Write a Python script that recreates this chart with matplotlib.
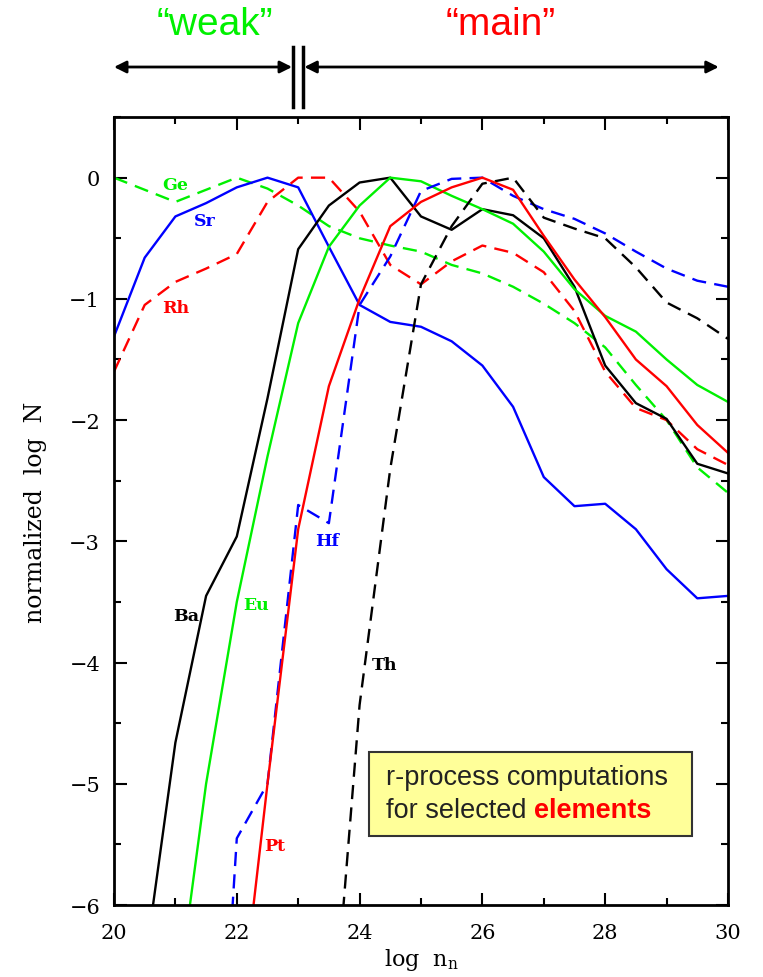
import matplotlib
matplotlib.use('Agg')
import matplotlib.pyplot as plt
import matplotlib.transforms as mtransforms
from matplotlib.patches import Rectangle
from matplotlib.ticker import MultipleLocator
import numpy as np

nan = np.nan

# log n_n grid (x axis)
lognn = [20.0, 20.5, 21.0, 21.5, 22.0, 22.5, 23.0, 23.5, 24.0, 24.5, 25.0,
         25.5, 26.0, 26.5, 27.0, 27.5, 28.0, 28.5, 29.0, 29.5, 30.0]

# normalized log N
sr = [-1.31, -0.66, -0.32, -0.21, -0.08, 0.0, -0.08, -0.57, -1.05, -1.19, -1.23,
      -1.35, -1.55, -1.89, -2.47, -2.71, -2.69, -2.90, -3.23, -3.47, -3.45]
ge = [0.0, -0.10, -0.20, -0.10, 0.0, -0.09, -0.23, -0.40, -0.50, -0.56, -0.61,
      -0.72, -0.79, -0.90, -1.04, -1.20, -1.40, -1.71, -2.00, -2.39, -2.60]
rh = [-1.60, -1.05, -0.86, -0.75, -0.63, -0.20, 0.0, 0.0, -0.28, -0.72, -0.88,
      -0.69, -0.56, -0.62, -0.78, -1.10, -1.60, -1.90, -2.00, -2.24, -2.37]
ba = [nan, -6.5, -4.66, -3.45, -2.96, -1.82, -0.59, -0.23, -0.04, 0.0, -0.32,
      -0.43, -0.26, -0.31, -0.50, -0.90, -1.55, -1.86, -1.99, -2.36, -2.44]
eu = [nan, nan, -6.9, -5.0, -3.5, -2.3, -1.2, -0.57, -0.23, 0.0, -0.03,
      -0.15, -0.26, -0.38, -0.61, -0.92, -1.14, -1.27, -1.50, -1.71, -1.85]
pt = [nan, nan, nan, nan, -7.2, -5.0, -2.9, -1.72, -1.0, -0.4, -0.2,
      -0.08, 0.0, -0.10, -0.48, -0.84, -1.15, -1.50, -1.72, -2.04, -2.27]
hf = [nan, nan, nan, -9.5, -5.45, -5.0, -2.7, -2.85, -1.05, -0.65, -0.11,
      -0.01, 0.0, -0.15, -0.26, -0.34, -0.46, -0.61, -0.75, -0.85, -0.90]
th = [nan, nan, nan, nan, nan, nan, nan, -7.5, -4.35, -2.4, -0.88,
      -0.40, -0.05, 0.0, -0.33, -0.42, -0.50, -0.74, -1.03, -1.16, -1.33]

green = '#00f000'
# (name, values, colour, dashed, label x, label y)
series = [
    ('Ge', ge, green, True, 21.0, -0.06),
    ('Sr', sr, '#0000ff', False, 21.48, -0.35),
    ('Rh', rh, '#ff0000', True, 21.0, -1.07),
    ('Ba', ba, 'black', False, 21.17, -3.61),
    ('Eu', eu, green, False, 22.32, -3.52),
    ('Hf', hf, '#0000ff', True, 23.47, -2.99),
    ('Th', th, 'black', True, 24.41, -4.02),
    ('Pt', pt, '#ff0000', False, 22.62, -5.51),
]

serif = 'DejaVu Serif'

fig = plt.figure(figsize=(7.63, 9.78), dpi=100)
ax = fig.add_axes([0.1494, 0.0736, 0.8047, 0.8057])

for name, vals, col, dashed, lx, ly in series:
    ls = (0, (6, 3.5)) if dashed else '-'
    ax.plot(lognn, vals, color=col, lw=1.7, ls=ls)
    ax.text(lx, ly, name, color=col, fontsize=12.5, fontweight='bold',
            family=serif, ha='center', va='center')

ax.set_xlim(20, 30)
ax.set_ylim(-6, 0.5)
ax.xaxis.set_major_locator(MultipleLocator(2))
ax.xaxis.set_minor_locator(MultipleLocator(1))
ax.yaxis.set_major_locator(MultipleLocator(1))
ax.yaxis.set_minor_locator(MultipleLocator(0.5))
ax.tick_params(which='both', direction='in', top=True, right=True, width=1.5)
ax.tick_params(which='major', length=9, labelsize=15)
ax.tick_params(axis='x', which='major', pad=13)
ax.tick_params(axis='y', which='major', pad=10)
ax.tick_params(which='minor', length=5)
for lab in ax.get_xticklabels() + ax.get_yticklabels():
    lab.set_family(serif)
for sp in ax.spines.values():
    sp.set_linewidth(2)

ax.set_xlabel('log  n$_\\mathregular{n}$', family=serif, fontsize=16,
              labelpad=3)
ax.set_ylabel('normalized  log  N', family=serif, fontsize=17, labelpad=16)

# "weak" / "main" arrows above the axes
trans = mtransforms.blended_transform_factory(ax.transData, ax.transAxes)
arr = dict(arrowstyle='<|-|>', lw=2, color='black', mutation_scale=18,
           shrinkA=0, shrinkB=0)
ax.annotate('', xy=(20.0, 1.0635), xytext=(22.9, 1.0635), xycoords=trans,
            textcoords=trans, arrowprops=arr, annotation_clip=False)
ax.annotate('', xy=(23.1, 1.0635), xytext=(29.85, 1.0635), xycoords=trans,
            textcoords=trans, arrowprops=arr, annotation_clip=False)
for xb in (22.92, 23.08):
    ax.plot([xb, xb], [1.013, 1.089], color='black', lw=2.5, transform=trans,
            clip_on=False)
ax.text(21.65, 1.118, '\u201cweak\u201d', color=green, fontsize=28,
        family='Liberation Sans', ha='center', va='center', transform=trans)
ax.text(26.3, 1.118, '\u201cmain\u201d', color='#ff0000', fontsize=28,
        family='Liberation Sans', ha='center', va='center', transform=trans)

# yellow note box
ax.add_patch(Rectangle((0.415, 0.0876), 0.526, 0.1066, transform=ax.transAxes,
                       facecolor='#ffff99', edgecolor='#333333', lw=1.5,
                       zorder=5))
ax.text(0.443, 0.163, 'r-process computations', transform=ax.transAxes,
        fontsize=19.5, family='Liberation Sans', color='#222222', va='center',
        zorder=6)
t2 = ax.text(0.443, 0.121, 'for selected ', transform=ax.transAxes,
             fontsize=19.5, family='Liberation Sans', color='#222222',
             va='center', zorder=6)
ax.annotate('elements', xy=(1, 0), xycoords=t2, va='bottom', fontsize=19.5,
            family='Liberation Sans', fontweight='bold', color='#ff0000',
            zorder=6)

plt.savefig('out.png', dpi=100)
